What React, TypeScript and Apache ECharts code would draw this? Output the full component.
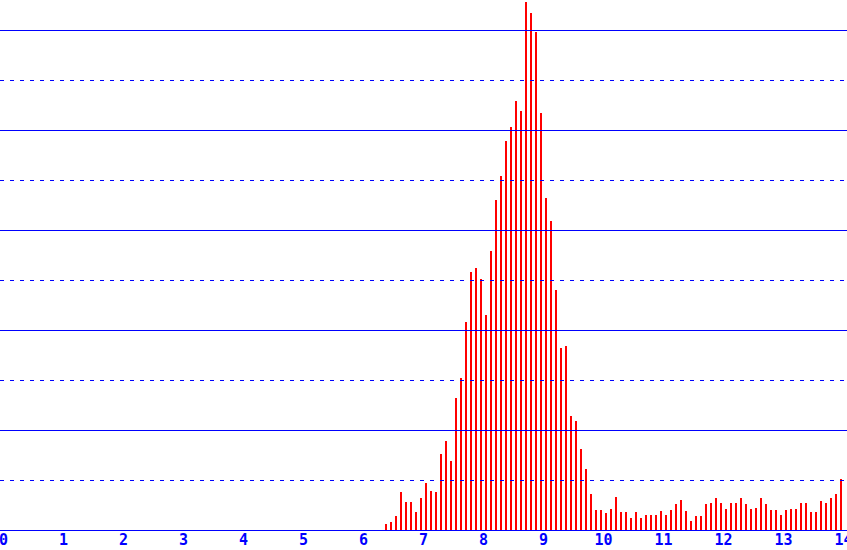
import React, { useEffect, useRef } from "react";
import * as echarts from "echarts";

// Histogram bins: width 1/12, first bin index 76 (i.e. starting at 6.333)
const binWidth = 1 / 12;
const firstBin = 76;
const counts: number[] = [
  6, 8, 14, 38, 28, 28, 18, 32, 47, 39, 38, 76, 89, 69, 132, 152, 208, 258, 262, 251,
  215, 279, 330, 354, 389, 403, 429, 419, 528, 517, 498, 417, 332, 309, 240, 182, 184, 114, 109, 81,
  61, 36, 20, 20, 17, 21, 33, 18, 18, 12, 18, 12, 15, 15, 15, 19, 15, 20, 26, 30,
  19, 9, 14, 14, 26, 27, 32, 27, 21, 27, 27, 32, 26, 21, 22, 32, 26, 20, 20, 15,
  20, 21, 21, 27, 27, 18, 18, 29, 27, 32, 36, 51,
];
const xTicks: number[] = [0, 1, 2, 3, 4, 5, 6, 7, 8, 9, 10, 11, 12, 13, 14];
const solidGrid: number[] = [100, 200, 300, 400, 500];
const dashedGrid: number[] = [50, 150, 250, 350, 450];

export default function App() {
  const ref = useRef<HTMLDivElement>(null);
  useEffect(() => {
    if (!ref.current) return;
    const chart = echarts.init(ref.current, undefined, { renderer: "svg" });
    const data = counts.map((c, i) => [(firstBin + i + 0.5) * binWidth, c]);
    const markData = [
      ...solidGrid.map((v) => ({ yAxis: v, lineStyle: { type: "solid" as const } })),
      ...dashedGrid.map((v) => ({ yAxis: v, lineStyle: { type: [4, 6] as any } })),
    ];
    chart.setOption({
      animation: false,
      backgroundColor: "#ffffff",
      grid: {
        left: 0,
        right: 0,
        top: 0,
        bottom: 20,
        containLabel: false,
        outerBoundsMode: "none",
      },
      xAxis: {
        type: "value",
        min: -3.5 / 60,
        max: 14 + 3.5 / 60,
        splitLine: { show: false },
        axisTick: { show: false },
        axisLine: { show: true, onZero: false, lineStyle: { color: "#0000ff", width: 1 } },
        axisLabel: {
          customValues: xTicks,
          color: "#0000ff",
          fontSize: 15,
          fontWeight: "bold",
          fontFamily: "DejaVu Sans Mono",
          margin: 2,
          showMinLabel: true,
          showMaxLabel: true,
          hideOverlap: false,
        },
      },
      yAxis: {
        type: "value",
        min: 0,
        max: 530,
        show: false,
        splitLine: { show: false },
      },
      series: [
        {
          type: "bar",
          data,
          barWidth: 2,
          itemStyle: { color: "#ff0000" },
          silent: true,
          markLine: {
            silent: true,
            symbol: ["none", "none"],
            label: { show: false },
            lineStyle: { color: "#0000ff", width: 1 },
            data: markData,
          },
        },
      ],
    });
    return () => chart.dispose();
  }, []);
  return (
    <div
      ref={ref}
      style={{ position: "fixed", left: 0, top: 0, width: 847, height: 550, background: "#fff" }}
    />
  );
}
